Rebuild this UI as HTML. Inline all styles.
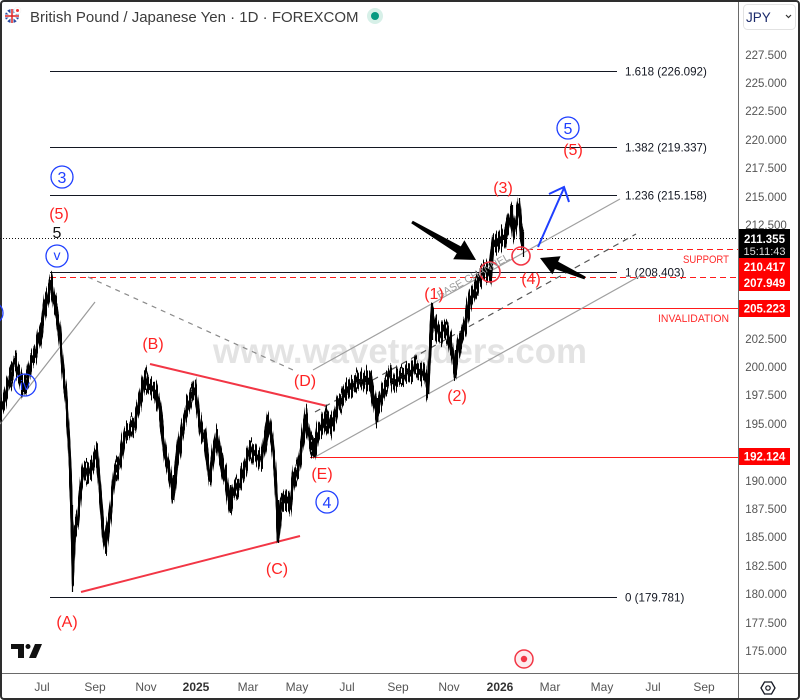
<!DOCTYPE html>
<html><head><meta charset="utf-8"><style>
html,body{margin:0;padding:0;background:#fff;}
svg{display:block;font-family:"Liberation Sans",sans-serif;}
</style></head><body>
<svg id="s" width="800" height="700" viewBox="0 0 800 700" xmlns="http://www.w3.org/2000/svg">
<defs>
<filter id="jit" filterUnits="userSpaceOnUse" x="-10" y="150" width="560" height="480" color-interpolation-filters="sRGB">
<feTurbulence type="fractalNoise" baseFrequency="0.35 0.015" numOctaves="2" seed="7" result="n"/>
<feColorMatrix in="n" type="matrix" values="0 0 0 0 0.5  0 1 0 0 0  0 0 0 0 0  0 0 0 0 1" result="m"/>
<feDisplacementMap in="SourceGraphic" in2="m" scale="16" xChannelSelector="R" yChannelSelector="G"/>
</filter>
<pattern id="vs" x="0" y="0" width="3" height="4" patternUnits="userSpaceOnUse">
<rect x="0" y="0" width="2" height="4" fill="#fff"/>
</pattern>
<pattern id="vs2" x="0" y="0" width="5" height="4" patternUnits="userSpaceOnUse">
<rect x="1" y="0" width="1" height="4" fill="#fff"/>
</pattern>
<mask id="mk" maskUnits="userSpaceOnUse" x="0" y="0" width="800" height="700">
<rect x="0" y="0" width="800" height="700" fill="url(#vs)"/>
</mask>
<mask id="mk2" maskUnits="userSpaceOnUse" x="0" y="0" width="800" height="700">
<rect x="0" y="0" width="800" height="700" fill="url(#vs2)"/>
</mask>
<polyline id="pl" fill="none" stroke-linejoin="round" points="0,410 4,402 8,385 12,372 15,364 19,374 23,388 27,378 31,362 35,355 39,338 42,328 45,305 48,295 51,283 54,302 57,312 60,335 63,372 66,395 69,445 71,490 73,575 75,528 78,518 81,485 84,470 88,472 92,468 97,452 100,492 103,528 106,545 110,515 115,472 120,462 125,435 130,430 135,425 140,400 145,378 150,386 155,390 160,410 165,452 170,476 173,494 177,460 182,432 187,410 191,396 195,388 200,425 205,440 210,478 214,450 217,436 221,460 226,480 230,503 235,490 240,484 245,466 250,450 256,455 262,460 268,420 272,440 275,470 278,533 281,505 285,500 290,505 294,476 298,470 302,445 306,416 310,440 314,450 318,430 322,425 326,415 330,430 334,420 338,405 342,398 347,390 352,386 357,380 362,378 367,382 371,385 375,405 377,414 380,400 385,386 390,378 395,380 400,376 405,374 410,372 415,366 420,370 425,376 428,388 430,345 432,314 435,325 440,335 445,330 449,335 452,350 455,370 458,350 462,336 466,322 470,300 474,290 478,282 482,274 486,270 490,274 493,248 497,242 501,238 505,238 508,226 511,214 514,232 517,218 519,208 521,232 523,240"/>
</defs>
<rect width="800" height="700" fill="#fff"/>
<!-- watermark -->
<text x="400" y="363" text-anchor="middle" font-size="35" font-weight="bold" fill="#e3e3e3" textLength="374" lengthAdjust="spacingAndGlyphs">www.wavetraders.com</text>

<!-- header -->
<circle cx="12" cy="16" r="7" fill="#2b4aa0"/>
<path d="M6 11 L18 21 M18 11 L6 21" stroke="#fff" stroke-width="2"/>
<path d="M12 9 V23 M5 16 H19" stroke="#fff" stroke-width="3"/>
<path d="M12 9 V23 M5 16 H19" stroke="#d22" stroke-width="1.5"/>
<circle cx="17.5" cy="10.5" r="3.5" fill="#fff" stroke="#eee" stroke-width="0.5"/>
<circle cx="17.5" cy="10.5" r="1.5" fill="#e33"/>
<text x="30" y="22" font-size="15" fill="#3c3c3c">British Pound / Japanese Yen · 1D · FOREXCOM</text>
<circle cx="375" cy="16" r="8" fill="#d7f0e8"/>
<circle cx="375" cy="16" r="4" fill="#089981"/>

<!-- JPY dropdown -->
<rect x="743.5" y="4.5" width="52" height="25" rx="4" fill="#fff" stroke="#e2e2e2"/>
<text x="746" y="22" font-size="13.5" fill="#1b2a6b">JPY</text>
<path d="M786 15 L788.5 17.5 L791 15" stroke="#333" stroke-width="1.2" fill="none"/>

<!-- frame / axes -->
<line x1="738.5" y1="0" x2="738.5" y2="700" stroke="#6a6a6a" stroke-width="1"/>
<line x1="0" y1="673.5" x2="800" y2="673.5" stroke="#6a6a6a" stroke-width="1"/>
<rect x="1" y="1" width="798" height="698" rx="3" fill="none" stroke="#2e2e2e" stroke-width="2"/>

<!-- fib lines -->
<g stroke="#131722" stroke-width="1">
<line x1="50" y1="71.5" x2="617" y2="71.5"/>
<line x1="50" y1="147.5" x2="617" y2="147.5"/>
<line x1="50" y1="195.5" x2="617" y2="195.5"/>
<line x1="50" y1="272.5" x2="617" y2="272.5"/>
<line x1="50" y1="597.5" x2="617" y2="597.5"/>
</g>
<g font-size="11.6" fill="#131722">
<text x="625" y="75.5">1.618 (226.092)</text>
<text x="625" y="151.5">1.382 (219.337)</text>
<text x="625" y="199.5">1.236 (215.158)</text>
<text x="625" y="276.5">1 (208.403)</text>
<text x="625" y="601.5">0 (179.781)</text>
</g>

<!-- price line dotted -->
<line x1="0" y1="238.5" x2="738" y2="238.5" stroke="#111" stroke-width="1" stroke-dasharray="1,2"/>
<!-- red dashed -->
<line x1="50" y1="277.5" x2="738" y2="277.5" stroke="#ff1a1a" stroke-width="1" stroke-dasharray="6,4"/>
<line x1="507" y1="249.5" x2="738" y2="249.5" stroke="#ff1a1a" stroke-width="1" stroke-dasharray="6,4"/>
<!-- red solid -->
<line x1="432" y1="308.5" x2="738" y2="308.5" stroke="#ff1a1a" stroke-width="1"/>
<line x1="310" y1="457.5" x2="738" y2="457.5" stroke="#ff1a1a" stroke-width="1"/>
<!-- triangle lines -->
<line x1="150" y1="364" x2="327" y2="406" stroke="#f23645" stroke-width="2"/>
<line x1="81" y1="592" x2="300" y2="536" stroke="#f23645" stroke-width="2"/>
<!-- gray lines -->
<line x1="0" y1="424" x2="95" y2="302" stroke="#9a9a9a" stroke-width="1.2"/>
<line x1="88" y1="277" x2="293" y2="370" stroke="#8a8a8a" stroke-width="1.2" stroke-dasharray="5,5"/>
<line x1="315" y1="457" x2="640" y2="276" stroke="#a0a0a0" stroke-width="1.2"/>
<line x1="313" y1="370" x2="620" y2="199" stroke="#a0a0a0" stroke-width="1.2"/>
<line x1="315" y1="412" x2="636" y2="234" stroke="#555" stroke-width="1.2" stroke-dasharray="6,5"/>

<!-- price bars (static, textured) -->
<g filter="url(#jit)" fill="none">
<g stroke="#000" stroke-width="2">
<use href="#pl" transform="translate(0,-2)"/>
<use href="#pl"/>
<use href="#pl" transform="translate(0,2)"/>
</g>
<g stroke="#000" stroke-width="2.2" mask="url(#mk)">
<use href="#pl" transform="translate(0,-8)"/>
<use href="#pl" transform="translate(0,-6)"/>
<use href="#pl" transform="translate(0,-4)"/>
<use href="#pl" transform="translate(0,4)"/>
<use href="#pl" transform="translate(0,6)"/>
<use href="#pl" transform="translate(0,8)"/>
</g>
<g stroke="#000" stroke-width="2.2" mask="url(#mk2)">
<use href="#pl" transform="translate(0,-11)"/>
<use href="#pl" transform="translate(0,-9)"/>
<use href="#pl" transform="translate(0,9)"/>
<use href="#pl" transform="translate(0,11)"/>
</g>
</g>
<!-- key extreme wicks -->
<g stroke="#000" stroke-width="1.2">
<line x1="72.5" y1="505" x2="72.5" y2="592"/>
<line x1="51.5" y1="277" x2="51.5" y2="295"/>
<line x1="145.5" y1="370" x2="145.5" y2="390"/>
<line x1="195.5" y1="380" x2="195.5" y2="400"/>
<line x1="278.5" y1="500" x2="278.5" y2="543"/>
<line x1="306.5" y1="408" x2="306.5" y2="428"/>
<line x1="314.5" y1="438" x2="314.5" y2="457"/>
<line x1="377.5" y1="398" x2="377.5" y2="422"/>
<line x1="428.5" y1="370" x2="428.5" y2="394"/>
<line x1="432.5" y1="303" x2="432.5" y2="340"/>
<line x1="455.5" y1="350" x2="455.5" y2="378"/>
<line x1="519.5" y1="198" x2="519.5" y2="225"/>
<line x1="512.5" y1="205" x2="512.5" y2="228"/>
<line x1="523.5" y1="232" x2="523.5" y2="257"/>
<line x1="106.5" y1="525" x2="106.5" y2="552"/>
<line x1="173.5" y1="475" x2="173.5" y2="500"/>
<line x1="230.5" y1="485" x2="230.5" y2="513"/>
</g>

<!-- red circles -->
<circle cx="490" cy="272" r="10" fill="none" stroke="#f23645" stroke-width="1.6"/>
<circle cx="521" cy="256" r="9" fill="none" stroke="#f23645" stroke-width="1.6"/>

<!-- BASE CHANNEL -->
<text transform="translate(475,279) rotate(-29)" text-anchor="middle" font-size="10.5" fill="#9a9a9a">BASE CHANNEL</text>

<!-- arrows -->
<polygon points="412.8,220.7 460.8,246.4 464.4,240.3 476,260 453.2,259.3 456.8,253.2 411.2,223.3" fill="#000"/>
<polygon points="584.4,279.4 554.9,269 552.4,274.4 540,258 560.6,256.2 558.1,261.6 585.6,276.6" fill="#000"/>
<path d="M538 247 L564 188 M549 194 L564 187 L569 202" stroke="#1f3fff" stroke-width="2" fill="none"/>

<!-- red wave labels -->
<g font-size="16" fill="#ff2222" text-anchor="middle">
<text x="503" y="193">(3)</text>
<text x="531" y="284">(4)</text>
<text x="434" y="299">(1)</text>
<text x="457" y="401">(2)</text>
<text x="573" y="155">(5)</text>
<text x="59" y="219">(5)</text>
<text x="153" y="349">(B)</text>
<text x="305" y="386">(D)</text>
<text x="322" y="479">(E)</text>
<text x="277" y="574">(C)</text>
<text x="67" y="627">(A)</text>
</g>
<text x="57" y="238" font-size="16" fill="#111" text-anchor="middle">5</text>

<!-- blue circled labels -->
<g fill="none" stroke="#1f3fff" stroke-width="1.3">
<circle cx="62" cy="177" r="11"/>
<circle cx="568" cy="128" r="11"/>
<circle cx="327" cy="502" r="11"/>
<circle cx="57" cy="256" r="11"/>
<circle cx="25" cy="385" r="11"/>
<circle cx="-8" cy="313" r="11"/>
</g>
<g fill="#1f3fff" font-size="16" text-anchor="middle">
<text x="62" y="183">3</text>
<text x="568" y="134">5</text>
<text x="327" y="508">4</text>
<text x="57" y="260" font-size="14">v</text>
<text x="25" y="390" font-size="14">iv</text>
</g>

<!-- SUPPORT / INVALIDATION -->
<text x="683" y="263" font-size="11" fill="#ff2b2b" textLength="46" lengthAdjust="spacingAndGlyphs">SUPPORT</text>
<text x="658" y="322" font-size="11" fill="#ff2b2b" textLength="71" lengthAdjust="spacingAndGlyphs">INVALIDATION</text>

<!-- price axis labels -->
<g font-size="11.5" fill="#555" text-anchor="middle">
<text x="766" y="59">227.500</text>
<text x="766" y="87">225.000</text>
<text x="766" y="115">222.500</text>
<text x="766" y="144">220.000</text>
<text x="766" y="172">217.500</text>
<text x="766" y="201">215.000</text>
<text x="766" y="229">212.500</text>
<text x="766" y="343">202.500</text>
<text x="766" y="371">200.000</text>
<text x="766" y="399">197.500</text>
<text x="766" y="428">195.000</text>
<text x="766" y="485">190.000</text>
<text x="766" y="513">187.500</text>
<text x="766" y="541">185.000</text>
<text x="766" y="570">182.500</text>
<text x="766" y="598">180.000</text>
<text x="766" y="627">177.500</text>
<text x="766" y="655">175.000</text>
</g>
<!-- axis boxes -->
<rect x="739" y="229" width="51" height="29" fill="#000"/>
<rect x="739" y="258" width="51" height="17" fill="#ff0000"/>
<rect x="739" y="275" width="51" height="16" fill="#ff0000"/>
<rect x="739" y="300" width="51" height="17" fill="#ff0000"/>
<rect x="739" y="448" width="51" height="17" fill="#ff0000"/>
<g font-size="11.5" font-weight="bold" fill="#fff" text-anchor="middle">
<text x="764.5" y="243">211.355</text>
<text x="764.5" y="271">210.417</text>
<text x="764.5" y="287">207.949</text>
<text x="764.5" y="312.5">205.223</text>
<text x="764.5" y="460.5">192.124</text>
</g>
<text x="764.5" y="255" font-size="11" fill="#dcdcdc" text-anchor="middle">15:11:43</text>

<!-- time axis -->
<g font-size="12" fill="#555" text-anchor="middle">
<text x="42" y="691">Jul</text>
<text x="95" y="691">Sep</text>
<text x="146" y="691">Nov</text>
<text x="196" y="691" font-weight="bold" fill="#333">2025</text>
<text x="248" y="691">Mar</text>
<text x="297" y="691">May</text>
<text x="347" y="691">Jul</text>
<text x="398" y="691">Sep</text>
<text x="449" y="691">Nov</text>
<text x="500" y="691" font-weight="bold" fill="#333">2026</text>
<text x="550" y="691">Mar</text>
<text x="602" y="691">May</text>
<text x="653" y="691">Jul</text>
<text x="704" y="691">Sep</text>
</g>
<!-- settings hexagon -->
<polygon points="761,688 764.5,682 771.5,682 775,688 771.5,694 764.5,694" fill="none" stroke="#131722" stroke-width="1.3"/>
<circle cx="768" cy="688" r="2.2" fill="none" stroke="#131722" stroke-width="1.2"/>

<!-- TV logo -->
<path d="M11 644 H24 V658 H18 V649 H11 Z" fill="#111"/>
<circle cx="28" cy="646.5" r="2.5" fill="#111"/>
<path d="M35 644 H42 L36 658 H29 Z" fill="#111"/>

<!-- target icon -->
<circle cx="524" cy="659" r="9" fill="#fdecee" stroke="#f23645" stroke-width="1.5"/>
<circle cx="524" cy="659" r="3.2" fill="#f23645"/>
</svg>
</body></html>
